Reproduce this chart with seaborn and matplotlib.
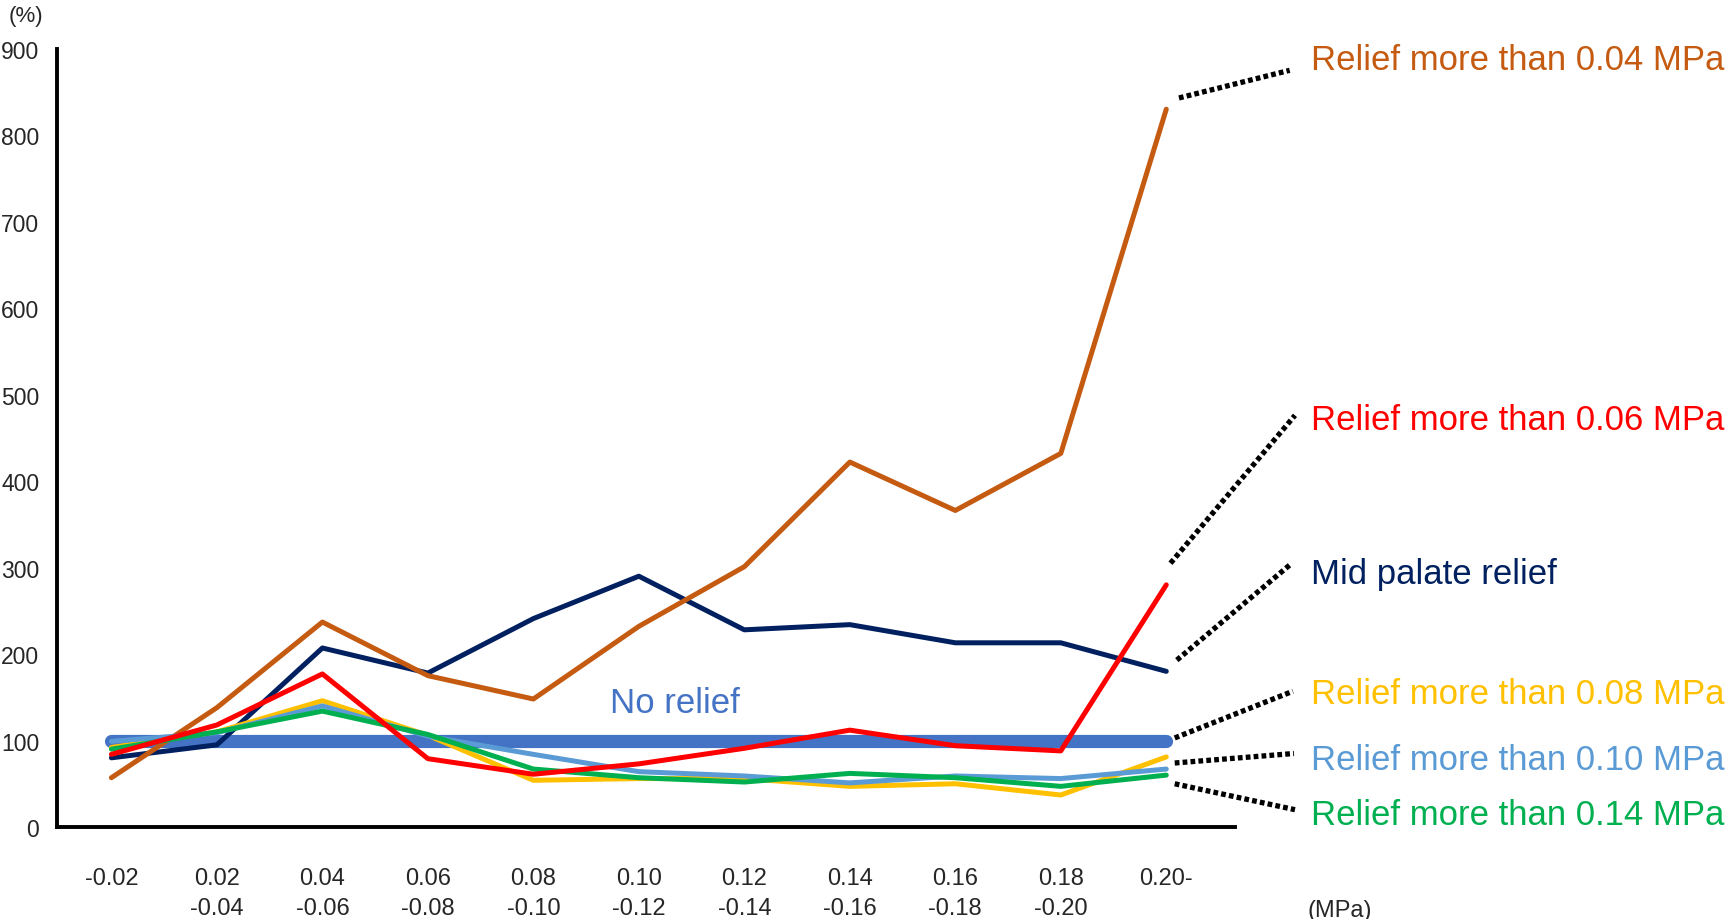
import pandas as pd
import matplotlib
matplotlib.use("Agg")
import matplotlib.pyplot as plt
import seaborn as sns

# x categories (pressure ranges, MPa)
categories = ["-0.02", "0.02\n-0.04", "0.04\n-0.06", "0.06\n-0.08", "0.08\n-0.10",
              "0.10\n-0.12", "0.12\n-0.14", "0.14\n-0.16", "0.16\n-0.18",
              "0.18\n-0.20", "0.20-"]

# values in %
no_relief = [100, 100, 100, 100, 100, 100, 100, 100, 100, 100, 100]
relief_004 = [57, 138, 237, 175, 148, 232, 301, 422, 366, 432, 830]
mid_palate = [80, 95, 207, 178, 241, 290, 228, 234, 213, 213, 180]
relief_006 = [84, 118, 177, 79, 61, 73, 91, 112, 94, 88, 280]
relief_008 = [92, 110, 146, 106, 54, 56, 56, 47, 50, 37, 81]
relief_010 = [99, 109, 140, 105, 84, 64, 59, 51, 59, 56, 67]
relief_014 = [90, 110, 134, 107, 67, 57, 52, 62, 57, 47, 60]

series_names = ["No relief", "Mid palate relief", "Relief more than 0.04 MPa",
                "Relief more than 0.08 MPa", "Relief more than 0.10 MPa",
                "Relief more than 0.14 MPa", "Relief more than 0.06 MPa"]
series_vals = [no_relief, mid_palate, relief_004, relief_008, relief_010,
               relief_014, relief_006]
colors = {"No relief": "#4472C4", "Mid palate relief": "#002060",
          "Relief more than 0.04 MPa": "#C55A11", "Relief more than 0.06 MPa": "#FF0000",
          "Relief more than 0.08 MPa": "#FFC000", "Relief more than 0.10 MPa": "#5B9BD5",
          "Relief more than 0.14 MPa": "#00B050"}

rows = []
for name, vals in zip(series_names, series_vals):
    for i, v in enumerate(vals):
        rows.append({"x": i, "value": v, "series": name})
df = pd.DataFrame(rows)

sns.set_style("white")
plt.rcParams["font.family"] = ["Liberation Sans", "DejaVu Sans"]

fig = plt.figure(figsize=(17.29, 9.2), dpi=100)
ax = fig.add_axes([0.0332, 0.100, 0.681, 0.846])

for name in series_names:
    sub = df[df["series"] == name]
    lw = 9.5 if name == "No relief" else 3.6
    sns.lineplot(data=sub, x="x", y="value", color=colors[name], lw=lw, ax=ax,
                 solid_capstyle="round", legend=False)

ax.set_xlim(-0.512, 10.65)
ax.set_ylim(0, 900)
ax.set_xticks(range(len(categories)))
ax.set_xticklabels(categories, fontsize=17, linespacing=1.45)
ax.set_yticks(range(0, 901, 100))
ax.set_yticklabels([str(v) for v in range(0, 901, 100)], fontsize=16.5)
ax.set_xlabel("")
ax.set_ylabel("")
ax.tick_params(axis="y", direction="in", length=11, width=2, pad=13)
ax.tick_params(axis="x", direction="in", length=11, width=2, pad=29)
for s in ["top", "right"]:
    ax.spines[s].set_visible(False)
for s in ["left", "bottom"]:
    ax.spines[s].set_linewidth(2.8)
    ax.spines[s].set_color("black")

# labels with dotted leaders: (text y, leader start (x, y), leader end (x, y))
label_layout = {
    "Relief more than 0.04 MPa": (888, (10.12, 843), (11.17, 875)),
    "Relief more than 0.06 MPa": (471, (10.04, 305), (11.22, 476)),
    "Mid palate relief": (293, (10.10, 193), (11.19, 305)),
    "Relief more than 0.08 MPa": (154, (10.08, 103), (11.20, 157)),
    "Relief more than 0.10 MPa": (78, (10.08, 74), (11.21, 85)),
    "Relief more than 0.14 MPa": (14, (10.08, 50), (11.22, 20)),
}
for name, (ty, p0, p1) in label_layout.items():
    ax.plot([p0[0], p1[0]], [p0[1], p1[1]], color="black", lw=3.8,
            linestyle=(0, (0.9, 0.6)), clip_on=False)
    ax.text(11.37, ty, name, color=colors[name], fontsize=25, va="center",
            ha="left", clip_on=False)

ax.text(5.34, 144, "No relief", color=colors["No relief"], fontsize=25,
        va="center", ha="center")

ax.text(-0.97, 938, "(%)", fontsize=16, va="center", ha="left", clip_on=False)
ax.text(11.64, -96, "(MPa)", fontsize=17, va="center", ha="center", clip_on=False)

fig.savefig("out.png", dpi=100, facecolor="white")
